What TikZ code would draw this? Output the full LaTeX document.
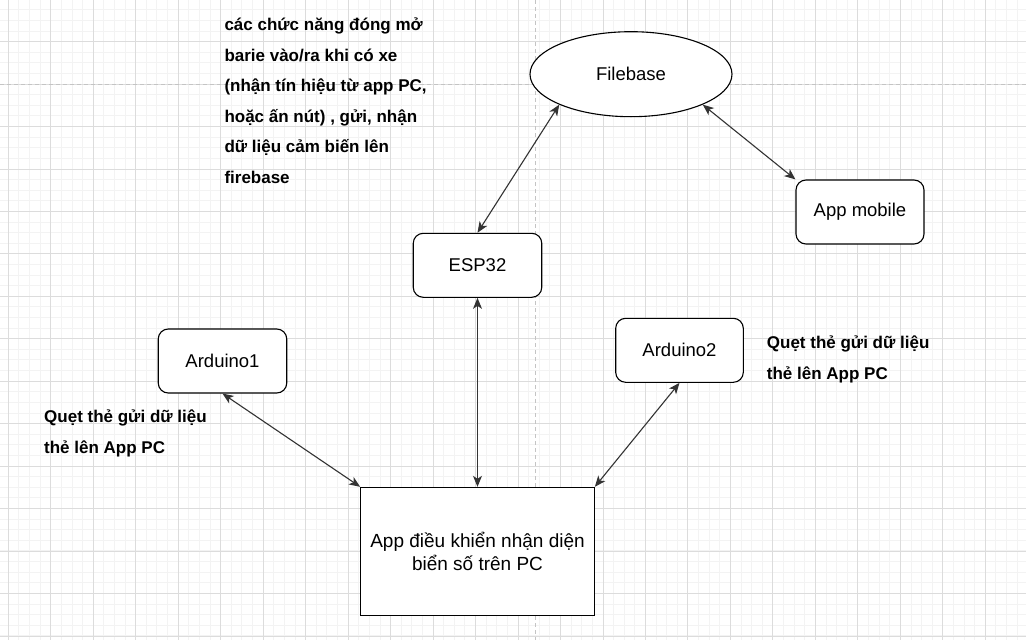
\documentclass[tikz,border=0pt]{standalone}
\usepackage{fontspec}
\setmainfont{Liberation Sans}
\usetikzlibrary{arrows.meta,shapes.geometric}
\definecolor{gminor}{HTML}{F3F3F3}
\definecolor{gmajor}{HTML}{DCDCDC}
\definecolor{gpage}{HTML}{C4C4C4}
\definecolor{arrowc}{HTML}{333333}
\begin{document}
\begin{tikzpicture}[x=1pt,y=-1pt,
  box/.style={draw=black,line width=1.1pt,fill=white,rounded corners=10pt,
    minimum width=128.5pt,minimum height=64pt,inner sep=0pt,
    font=\fontsize{18.5}{22}\selectfont},
  oval/.style={draw=black,line width=1.1pt,fill=white,ellipse,
    minimum width=202pt,minimum height=85pt,inner sep=0pt,
    font=\fontsize{18.5}{22}\selectfont},
  bigbox/.style={draw=black,line width=1.1pt,fill=white,
    minimum width=233.6pt,minimum height=127.7pt,inner sep=0pt,align=center,
    font=\fontsize{19}{22.6}\selectfont},
  note/.style={inner sep=0pt,align=left,anchor=base west,
    font=\fontsize{17}{30.5}\selectfont\bfseries},
  link/.style={draw=arrowc,line width=1.1pt,
    {Stealth[length=11pt,width=9pt,inset=3pt]}-{Stealth[length=11pt,width=9pt,inset=3pt]}},
  minorline/.style={draw=gminor,line width=1pt},
  majorline/.style={draw=gmajor,line width=1pt},
  pageline/.style={draw=gpage,line width=1pt,dash pattern=on 4pt off 3pt}
]
\useasboundingbox (0,0) rectangle (1026,640);
\fill[white] (0,0) rectangle (1026,640);
% grid
\foreach \i in {0,...,97} \draw[minorline] ({-2.32+10.62*\i},0) -- ++(0,640);
\foreach \i in {0,...,61} \draw[minorline] (0,{-0.75+10.61*\i}) -- ++(1026,0);
\foreach \i in {0,...,24} \draw[majorline] ({8.3+42.48*\i},0) -- ++(0,640);
\foreach \i in {0,...,15} \draw[majorline] (0,{-0.75+42.45*\i}) -- ++(1026,0);
\draw[pageline] (0,84.3) -- (1026,84.3);
\draw[pageline] (535,0) -- (535,640);

% nodes
\node[oval] (fb) at (631,74.2) {Filebase};
\node[box,minimum width=128pt] (mob) at (860,212) {App mobile};
\node[box] (esp) at (477.5,265.3) {ESP32};
\node[box] (ard1) at (222.5,361) {Arduino1};
\node[box,minimum width=127.6pt] (ard2) at (679.5,350.3) {Arduino2};
\node[bigbox] (pc) at (477.5,551.2) {App điều khiển nhận diện\\biển số trên PC};

% notes (anchored at the baseline of their last line)
\node[note] (n1) at (224.3,183.3) {các chức năng đóng mở\\barie vào/ra khi có xe\\(nhận tín hiệu từ app PC,\\hoặc ấn nút) , gửi, nhận\\dữ liệu cảm biến lên\\firebase};
\node[note] (n2) at (44,453.3) {Quẹt thẻ gửi dữ liệu\\thẻ lên App PC};
\node[note] (n3) at (766.7,379.3) {Quẹt thẻ gửi dữ liệu\\thẻ lên App PC};

% links
\draw[link] (esp.north) -- (fb.203.6);
\draw[link] (fb.337.4) -- (mob.north west);
\draw[link] (esp.south) -- (pc.north);
\draw[link] (ard1.south) -- (pc.north west);
\draw[link] (ard2.south) -- (pc.north east);
\end{tikzpicture}
\end{document}
